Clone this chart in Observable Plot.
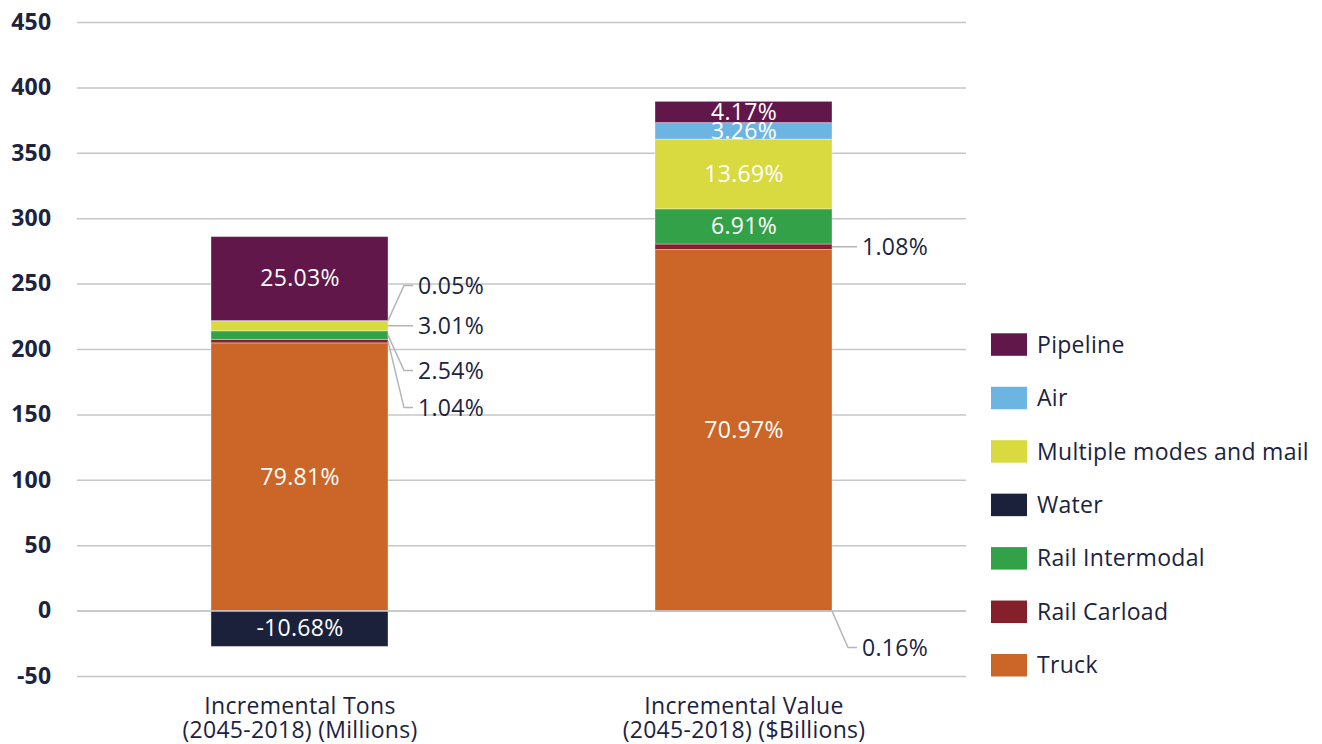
<!DOCTYPE html>
<html>
<head>
<meta charset="utf-8">
<script src="https://cdn.jsdelivr.net/npm/d3@7"></script>
<script src="https://cdn.jsdelivr.net/npm/@observablehq/plot@0.6"></script>
<style>
  html, body { margin: 0; padding: 0; background: #fff; }
  #chart { width: 1322px; height: 744px; }
  #chart text { letter-spacing: 0.3px; }
</style>
</head>
<body>
<div id="chart"></div>
<script>
// Freight modes, in stacking order from the bottom of each bar upward
const modes = ["Truck", "Rail Carload", "Rail Intermodal", "Water", "Multiple modes and mail", "Air", "Pipeline"];
const modeColors = ["#cc6628", "#84202c", "#33a147", "#1c213b", "#d9d940", "#6cb5e2", "#62174b"];
const legendOrder = ["Pipeline", "Air", "Multiple modes and mail", "Water", "Rail Intermodal", "Rail Carload", "Truck"];

const measures = ["Incremental Tons\n(2045-2018) (Millions)", "Incremental Value\n(2045-2018) ($Billions)"];
// Net change for each measure (millions of tons, billions of dollars)
const netTotals = [256.5, 389];
// Share of the net change by mode (percent), same order as `modes`
const tonsShare = [79.81, 1.04, 2.54, -10.68, 3.01, 0.05, 25.03];
const valueShare = [70.97, 1.08, 6.91, -0.16, 13.69, 3.26, 4.17];
const yTicks = [-50, 0, 50, 100, 150, 200, 250, 300, 350, 400, 450];

// Segments labelled inside the bar
const insideModes = [
  ["Truck", "Water", "Pipeline"],
  ["Truck", "Rail Intermodal", "Multiple modes and mail", "Air", "Pipeline"]
];
// Segments labelled beside the bar with a leader line; labelAt is where the callout sits on the y axis
const callouts = [
  {m: 0, mode: "Air", labelAt: 248.5},
  {m: 0, mode: "Multiple modes and mail"},
  {m: 0, mode: "Rail Intermodal", labelAt: 183.5},
  {m: 0, mode: "Rail Carload", labelAt: 155.2},
  {m: 1, mode: "Rail Carload"},
  {m: 1, mode: "Water", labelAt: -28.3}
];

const ink = "#1c2340";
// Plain hyphen for negative numbers
const fmt = d3.formatLocale({decimal: ".", thousands: ",", grouping: [3], currency: ["$", ""], minus: "-"}).format(".2f");

// Stack positives upward from zero and negatives downward
const shares = [tonsShare, valueShare];
const segments = [];
measures.forEach((measure, i) => {
  let up = 0, down = 0;
  modes.forEach((mode, j) => {
    const share = shares[i][j];
    const v = share / 100 * netTotals[i];
    let y1, y2;
    if (v >= 0) { y1 = up; y2 = up + v; up = y2; }
    else { y1 = down; y2 = down + v; down = y2; }
    segments.push({m: i, measure, mode, share, y1, y2, mid: (y1 + y2) / 2});
  });
});
const seg = (i, mode) => segments.find(d => d.m === i && d.mode === mode);
const insideLabels = segments.filter(d => insideModes[d.m].includes(d.mode));

const plot = Plot.plot({
  width: 1322,
  height: 744,
  marginLeft: 77,
  marginRight: 356,
  marginTop: 22,
  marginBottom: 68,
  style: {fontFamily: "'Open Sans', sans-serif", fontSize: "23px", fontWeight: 500, color: ink, background: "#fff"},
  x: {domain: measures, paddingInner: 0.602, paddingOuter: 0.301, label: null},
  y: {domain: [-50, 450], label: null},
  color: {domain: modes, range: modeColors},
  marks: [
    Plot.gridY(yTicks, {stroke: "#c6c6c6", strokeOpacity: 1, strokeWidth: 1.5}),
    Plot.axisY(yTicks, {tickSize: 0, tickPadding: 26, label: null, tickFormat: d => String(d), fontWeight: "bold", fontSize: 23, fill: ink}),
    Plot.axisX({tickSize: 0, tickPadding: 21, label: null, fontSize: 23, fill: ink, lineHeight: 1.02}),
    Plot.barY(segments, {x: "measure", y1: "y1", y2: "y2", fill: "mode", stroke: "#fff", strokeOpacity: 0.35, strokeWidth: 1}),
    Plot.ruleY([0], {stroke: "#c6c6c6", strokeWidth: 1.5}),
    Plot.text(insideLabels, {x: "measure", y: "mid", text: d => fmt(d.share) + "%", fill: "white", fontSize: 23})
  ]
});

document.getElementById("chart").appendChild(plot);

// Callouts with leader lines, placed with the chart's own scales
const sx = plot.scale("x"), sy = plot.scale("y");
const svg = d3.select(plot);
const g = svg.append("g").attr("text-anchor", "start");
callouts.forEach(c => {
  const s = seg(c.m, c.mode);
  const xr = sx.apply(measures[c.m]) + sx.bandwidth;
  const ys = sy.apply(s.mid);
  const yl = c.labelAt === undefined ? ys : sy.apply(c.labelAt);
  g.append("path")
    .attr("d", `M${xr},${ys}L${xr + 16},${yl}L${xr + 25},${yl}`)
    .attr("fill", "none")
    .attr("stroke", "#b5b5b5")
    .attr("stroke-width", 1.5);
  g.append("text")
    .attr("x", xr + 30)
    .attr("y", yl)
    .attr("dy", "0.35em")
    .attr("text-anchor", "start")
    .attr("fill", ink)
    .attr("font-size", 23)
    .text(fmt(Math.abs(s.share)) + "%");
});

// Legend
const lg = svg.append("g").attr("text-anchor", "start");
legendOrder.forEach((mode, k) => {
  const y0 = 333.3 + k * 53.45;
  lg.append("rect")
    .attr("x", 991).attr("y", y0)
    .attr("width", 36).attr("height", 22.5)
    .attr("fill", modeColors[modes.indexOf(mode)]);
  lg.append("text")
    .attr("x", 1037).attr("y", y0 + 11.25)
    .attr("dy", "0.35em")
    .attr("text-anchor", "start")
    .attr("fill", ink)
    .attr("font-size", 23)
    .text(mode);
});
</script>
</body>
</html>
